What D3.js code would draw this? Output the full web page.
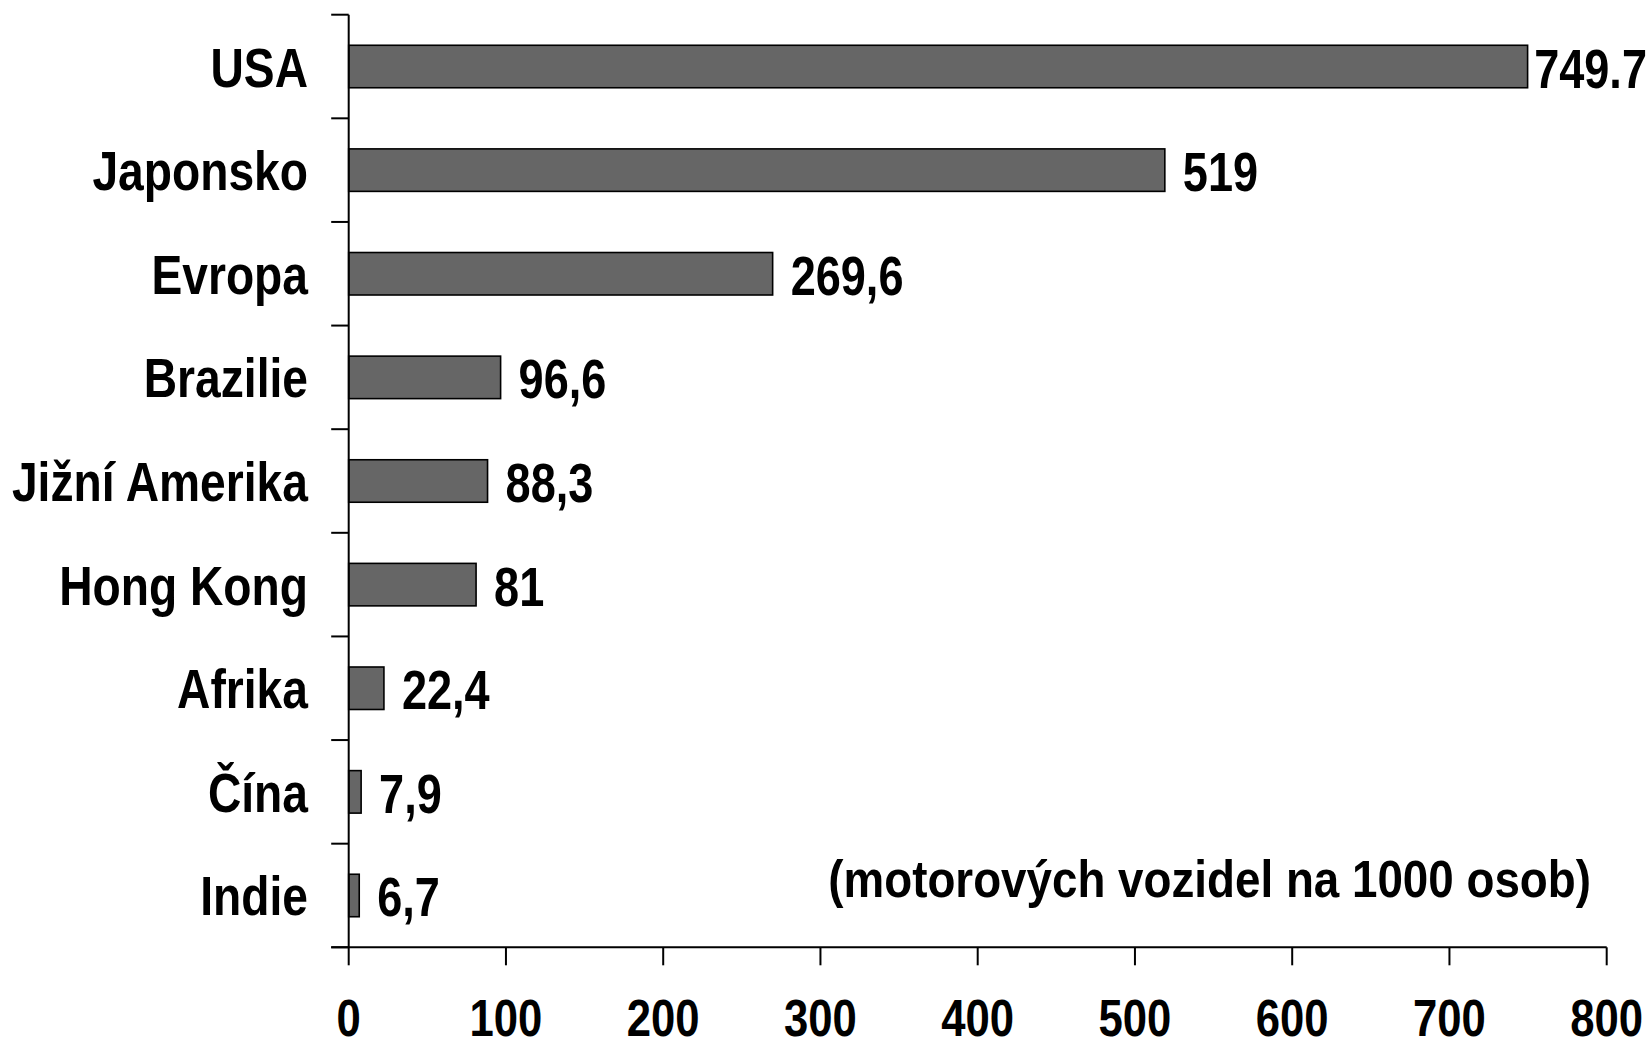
<!DOCTYPE html>
<html><head><meta charset="utf-8">
<script src="https://cdn.jsdelivr.net/npm/d3@7"></script>
<style>
html,body{margin:0;padding:0;background:#fff;}
svg text{font-family:"Liberation Sans Narrow","Arial Narrow","Liberation Sans",sans-serif;font-weight:bold;fill:#000;}
</style></head>
<body><svg id="c" width="1650" height="1047"></svg>
<script>
const categories = ["USA","Japonsko","Evropa","Brazilie","Jižní Amerika","Hong Kong","Afrika","Čína","Indie"];
const values = [749.7, 519, 269.6, 96.6, 88.3, 81, 22.4, 7.9, 6.7];
const valueLabels = ["749.7","519","269,6","96,6","88,3","81","22,4","7,9","6,7"];
const xTicks = [0,100,200,300,400,500,600,700,800];
const note = "(motorových vozidel na 1000 osob)";

(function(){
const W = 1650, H = 1047;
const mLeft = 348.7, mRight = 1606.7, mTop = 14.7, mBottom = 947.3;
const svg = d3.select("#c");

const x = d3.scaleLinear().domain([0,800]).range([mLeft,mRight]);
const y = d3.scaleBand().domain(categories).range([mTop,mBottom]).paddingInner(0.59).paddingOuter(0.295);

// condensed text helper (narrow font substitute)
function place(sel, fx, fy, sx){
  sel.attr("transform", (d,i)=>`translate(${fx(d,i)},${fy(d,i)}) scale(${sx},1)`);
}

// bars
svg.append("g").selectAll("rect").data(values).join("rect")
  .attr("x", x(0)).attr("y", (d,i)=>y(categories[i]))
  .attr("width", d=>x(d)-x(0)).attr("height", y.bandwidth())
  .attr("fill","#666666").attr("stroke","#000").attr("stroke-width",1.6);

// y axis line and ticks at band boundaries
const step = y.step();
const g = svg.append("g").attr("stroke","#000").attr("stroke-width",2);
g.append("line").attr("x1",mLeft).attr("x2",mLeft).attr("y1",mTop).attr("y2",mBottom);
d3.range(categories.length+1).forEach(i=>{
  const yy = mTop + i*step;
  g.append("line").attr("x1",mLeft-17.5).attr("x2",mLeft).attr("y1",yy).attr("y2",yy);
});
// x axis
g.append("line").attr("x1",mLeft-17.5).attr("x2",mRight).attr("y1",mBottom).attr("y2",mBottom);
xTicks.forEach(t=>{
  g.append("line").attr("x1",x(t)).attr("x2",x(t)).attr("y1",mBottom).attr("y2",mBottom+18);
});

// x tick labels
const tl = svg.append("g").selectAll("text").data(xTicks).join("text")
  .attr("text-anchor","middle").attr("font-size",52).text(d=>d);
place(tl, d=>x(d), ()=>1036, 0.84);

// category labels
const cl = svg.append("g").selectAll("text").data(categories).join("text")
  .attr("text-anchor","end").attr("font-size",55).text(d=>d);
place(cl, ()=>308, d=>y(d)+y.bandwidth()/2+20, 0.84);

// value labels
const sxv = 0.82;
const vl = svg.append("g").selectAll("text").data(values).join("text")
  .attr("font-size",55)
  .text((d,i)=>valueLabels[i]);
vl.each(function(d,i){
  const w = this.getComputedTextLength()*sxv;
  const xx = Math.min(x(d)+18, W - w - 3);
  const yy = y(categories[i])+y.bandwidth()/2+21;
  d3.select(this).attr("transform",`translate(${xx},${yy}) scale(${sxv},1)`);
});

// note
svg.append("text").attr("text-anchor","end")
  .attr("font-size",52).attr("transform","translate(1591,897) scale(0.88,1)").text(note);
})();
</script></body></html>
